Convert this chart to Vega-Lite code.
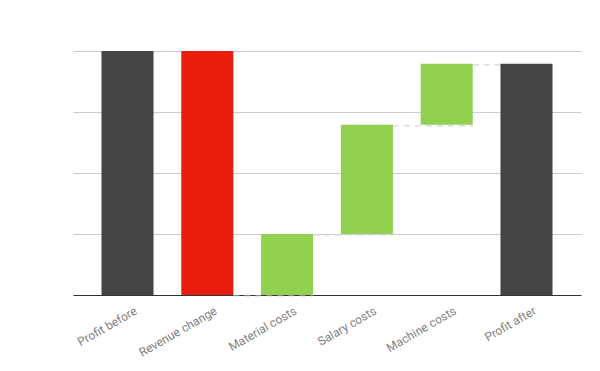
{
  "$schema": "https://vega.github.io/schema/vega-lite/v6.json",
  "width": 508,
  "height": 244,
  "autosize": {"type": "none"},
  "padding": {"left": 73, "top": 51, "right": 19, "bottom": 76},
  "background": "white",
  "config": {"view": {"stroke": null}},
  "datasets": {
    "bars": [
      {"category": "Profit before", "start": 0, "end": 400, "kind": "total"},
      {"category": "Revenue change", "start": 400, "end": 0, "kind": "decrease"},
      {"category": "Material costs", "start": 0, "end": 100, "kind": "increase"},
      {"category": "Salary costs", "start": 100, "end": 279, "kind": "increase"},
      {"category": "Machine costs", "start": 279, "end": 379, "kind": "increase"},
      {"category": "Profit after", "start": 0, "end": 379, "kind": "total"}
    ],
    "links": [
      {"from": "Revenue change", "to": "Material costs", "level": 0},
      {"from": "Material costs", "to": "Salary costs", "level": 100},
      {"from": "Salary costs", "to": "Machine costs", "level": 279},
      {"from": "Machine costs", "to": "Profit after", "level": 379}
    ]
  },
  "layer": [
    {
      "data": {"name": "links"},
      "mark": {"type": "rule", "color": "#d6d6d6", "strokeWidth": 1.2, "strokeDash": [6, 5], "yOffset": 1},
      "encoding": {
        "x": {"field": "from", "type": "nominal", "bandPosition": 1},
        "x2": {"field": "to", "bandPosition": 1},
        "y": {"field": "level", "type": "quantitative"}
      }
    },
    {
      "data": {"name": "bars"},
      "mark": {"type": "bar"},
      "encoding": {
        "x": {
          "field": "category",
          "type": "nominal",
          "sort": null,
          "scale": {
            "domain": ["Profit before", "Revenue change", "Material costs", "Salary costs", "Machine costs", "Profit after"],
            "paddingInner": 0.348,
            "paddingOuter": 0.357
          },
          "axis": {
            "title": null,
            "ticks": false,
            "labelAngle": -30,
            "labelAlign": "right",
            "labelBaseline": "top",
            "labelFont": "Roboto",
            "labelFontSize": 12,
            "labelColor": "#808080",
            "labelPadding": 10,
            "labelOffset": 6,
            "domainColor": "#333333",
            "domainWidth": 1.2,
            "grid": false
          }
        },
        "y": {
          "field": "start",
          "type": "quantitative",
          "scale": {"domain": [0, 400], "nice": false},
          "axis": {
            "title": null,
            "labels": false,
            "ticks": false,
            "domain": false,
            "grid": true,
            "gridColor": "#cccccc",
            "values": [0, 100, 200, 300, 400]
          }
        },
        "y2": {"field": "end"},
        "color": {
          "field": "kind",
          "type": "nominal",
          "scale": {"domain": ["total", "decrease", "increase"], "range": ["#444444", "#e81d0e", "#92d150"]},
          "legend": null
        }
      }
    }
  ]
}
